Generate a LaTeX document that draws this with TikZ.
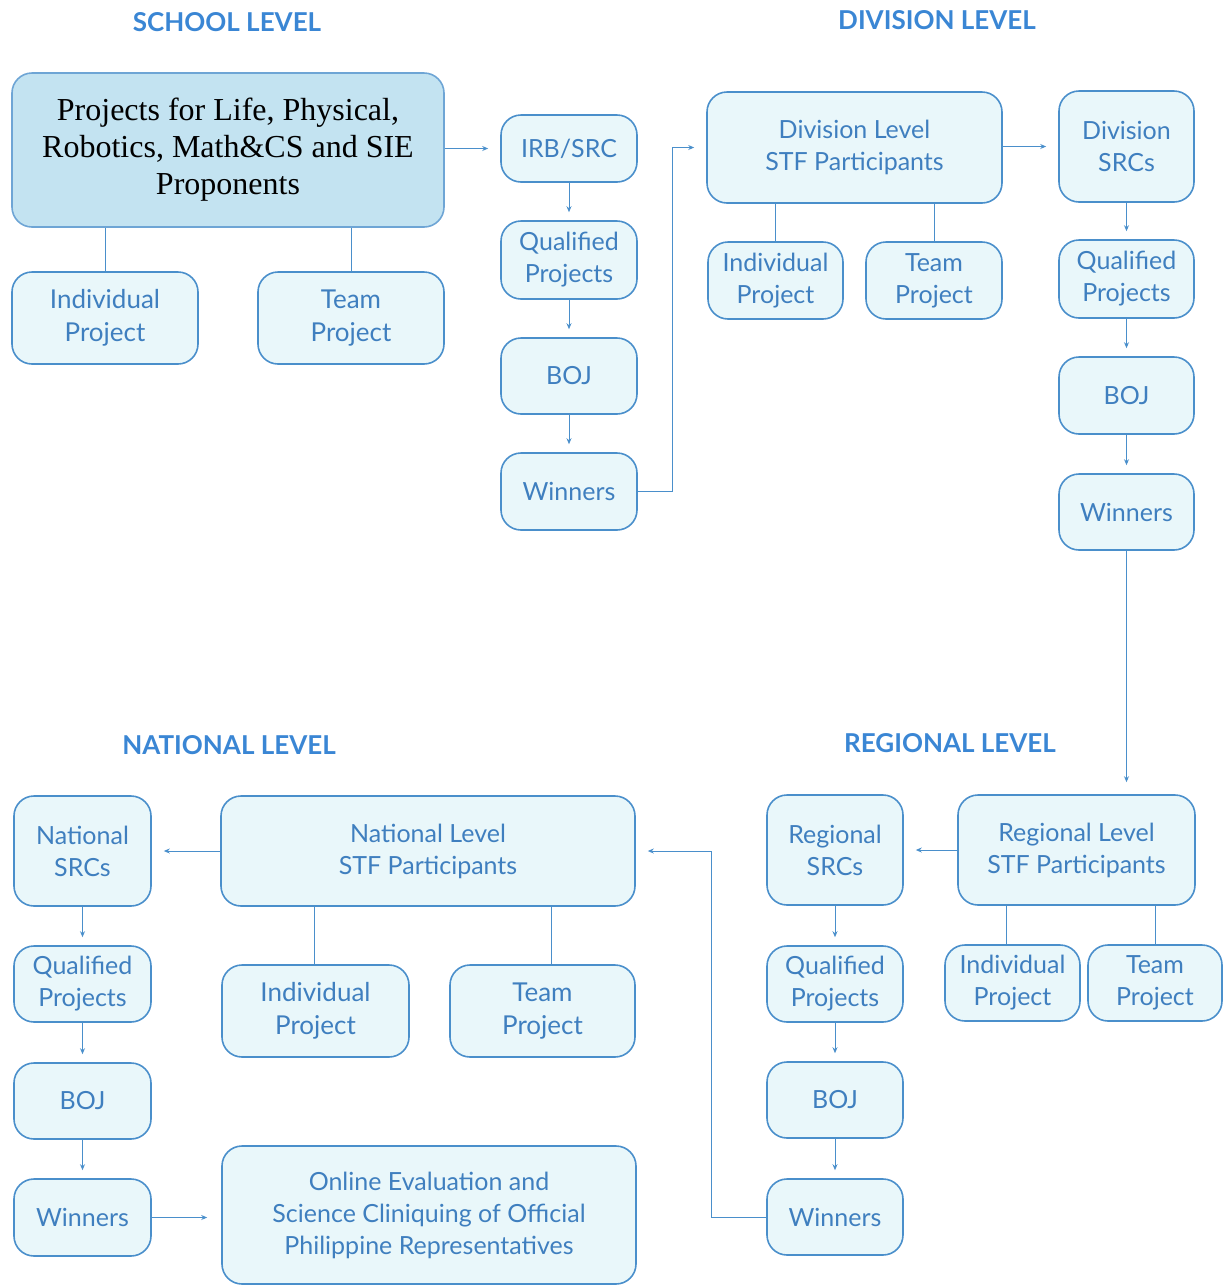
\documentclass[tikz,border=0pt]{standalone}
\usepackage{fontspec}
\setmainfont{Lato}
\newfontfamily\serifmain{Liberation Serif}
\usetikzlibrary{arrows.meta}
\definecolor{bd}{HTML}{4A8FCB}
\definecolor{tx}{HTML}{3F7FBF}
\definecolor{fl}{HTML}{E9F7FA}
\definecolor{hd}{HTML}{3A86D4}
\definecolor{fl2}{HTML}{C3E3F1}
\begin{document}
\begin{tikzpicture}[x=0.5pt,y=-0.5pt,
 box/.style={draw=bd, fill=fl, rounded corners=10pt, line width=0.8pt, align=center, text=tx, font=\fontsize{12.5}{16}\selectfont, inner sep=0pt},
 big/.style={font=\fontsize{13}{16.5}\selectfont},
 sz/.style 2 args={minimum width=#1*0.5pt, minimum height=#2*0.5pt},
 conn/.style={draw=bd, line width=0.5pt},
 arr/.style={conn, -{Stealth[length=3pt,width=2.5pt]}, shorten >=4pt},
 harr/.style={arr, shorten >=6pt},
 head/.style={text=hd, font=\bfseries\fontsize{13}{15}\selectfont}]
\useasboundingbox (0,0) rectangle (1225,1287);
% headings
\node[head] (hS) at (227,22) {SCHOOL LEVEL};
\node[head] (hD) at (937,20) {DIVISION LEVEL};
\node[head] (hN) at (229,745) {NATIONAL LEVEL};
\node[head] (hR) at (950,743) {REGIONAL LEVEL};
% school
\node[box, sz={432}{154}, fill=fl2, draw=bd!80, text=black, font=\serifmain\fontsize{16}{18.5}\selectfont] (main) at (228,150) {Projects for Life, Physical,\\Robotics, Math\&CS and SIE\\Proponents};
\node[box, big, sz={186}{92}] (sInd) at (105,318) {Individual\\Project};
\node[box, big, sz={186}{92}] (sTeam) at (351,318) {Team\\Project};
\node[box, sz={136}{67}] (irb) at (569,148.5) {IRB/SRC};
\node[box, sz={136}{78}] (sq) at (569,260) {Qualified\\Projects};
\node[box, sz={136}{76}] (sboj) at (569,376) {BOJ};
\node[box, sz={136}{77}] (swin) at (569,491.5) {Winners};
% division
\node[box, sz={295}{111}] (div) at (854.5,147.5) {Division Level\\STF Participants};
\node[box, sz={135}{77}] (dInd) at (775.5,280.5) {Individual\\Project};
\node[box, sz={136}{77}] (dTeam) at (934,280.5) {Team\\Project};
\node[box, sz={135}{111}] (dsrc) at (1126.5,146.5) {Division\\SRCs};
\node[box, sz={135}{78}] (dq) at (1126.5,279) {Qualified\\Projects};
\node[box, sz={135}{77}] (dboj) at (1126.5,395.5) {BOJ};
\node[box, sz={135}{76}] (dwin) at (1126.5,512) {Winners};
% regional
\node[box, sz={237}{110}] (reg) at (1076.5,850) {Regional Level\\STF Participants};
\node[box, sz={135}{76}] (rInd) at (1012.5,983) {Individual\\Project};
\node[box, sz={134}{76}] (rTeam) at (1155,983) {Team\\Project};
\node[box, sz={136}{110}] (rsrc) at (835,850) {Regional\\SRCs};
\node[box, sz={136}{76}] (rq) at (835,984) {Qualified\\Projects};
\node[box, sz={136}{76}] (rboj) at (835,1100) {BOJ};
\node[box, sz={136}{76}] (rwin) at (835,1217) {Winners};
% national
\node[box, sz={414}{110}] (nat) at (428,851) {National Level\\STF Participants};
\node[box, big, sz={187}{92}] (nInd) at (315.5,1011) {Individual\\Project};
\node[box, big, sz={185}{92}] (nTeam) at (542.5,1011) {Team\\Project};
\node[box, sz={137}{110}] (nsrc) at (82.5,851) {National\\SRCs};
\node[box, sz={137}{76}] (nq) at (82.5,984) {Qualified\\Projects};
\node[box, sz={137}{76}] (nboj) at (82.5,1101) {BOJ};
\node[box, sz={137}{77}] (nwin) at (82.5,1217.5) {Winners};
\node[box, sz={414}{138}] (online) at (429,1215) {Online Evaluation and\\Science Cliniquing of Official\\Philippine Representatives};
% connectors school
\draw[conn] (sInd.north) -- (sInd.north |- main.south);
\draw[conn] (sTeam.north) -- (sTeam.north |- main.south);
\draw[harr] (main.east |- irb.west) -- (irb.west);
\draw[arr] (irb) -- (sq);
\draw[arr] (sq) -- (sboj);
\draw[arr] (sboj) -- (swin);
\draw[harr] (swin.east) -- ++(35,0) |- (div.west);
% division
\draw[conn] (dInd.north) -- (dInd.north |- div.south);
\draw[conn] (dTeam.north) -- (dTeam.north |- div.south);
\draw[harr] (div.east |- dsrc.west) -- (dsrc.west);
\draw[arr] (dsrc) -- (dq);
\draw[arr] (dq) -- (dboj);
\draw[arr] (dboj) -- (dwin);
\draw[arr, shorten >=6pt] (dwin.south) -- (dwin.south |- reg.north);
% regional
\draw[conn] ([xshift=-3pt]rInd.north) -- ([xshift=-3pt]rInd.north |- reg.south);
\draw[conn] (rTeam.north) -- (rTeam.north |- reg.south);
\draw[harr] (reg.west) -- (rsrc.east);
\draw[arr] (rsrc) -- (rq);
\draw[arr] (rq) -- (rboj);
\draw[arr] (rboj) -- (rwin);
\draw[harr] (rwin.west) -- ++(-55,0) |- (nat.east);
% national
\draw[conn] ([xshift=-0.75pt]nInd.north) -- ([xshift=-0.75pt]nInd.north |- nat.south);
\draw[conn] ([xshift=4.25pt]nTeam.north) -- ([xshift=4.25pt]nTeam.north |- nat.south);
\draw[harr] (nat.west) -- (nsrc.east);
\draw[arr] (nsrc) -- (nq);
\draw[arr] (nq) -- (nboj);
\draw[arr] (nboj) -- (nwin);
\draw[harr, shorten >=7pt] (nwin.east) -- (nwin.east -| online.west);
\end{tikzpicture}
\end{document}
